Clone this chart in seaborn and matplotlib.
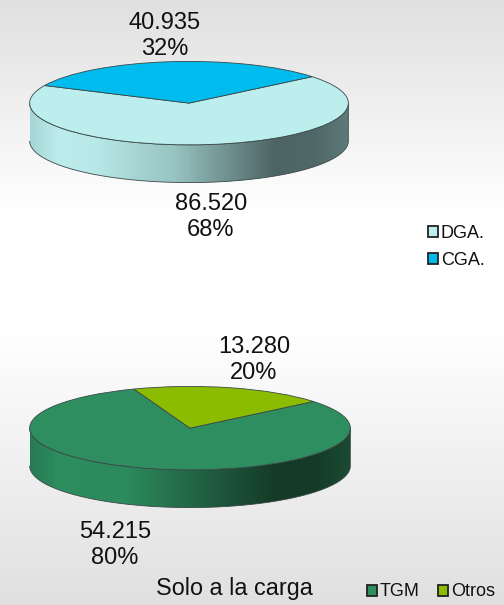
import numpy as np
import matplotlib
matplotlib.use("Agg")
import matplotlib.pyplot as plt
import seaborn as sns
from matplotlib.colors import LinearSegmentedColormap
from matplotlib.patches import Patch, PathPatch
from matplotlib.path import Path

top_labels = ["DGA.", "CGA."]
top_values = [86520, 40935]
top_pcts = [68, 32]
bottom_labels = ["TGM", "Otros"]
bottom_values = [54215, 13280]
bottom_pcts = [80, 20]
title = "Solo a la carga"

W, H = 504, 605
DEPTH = 38 / 42

sns.set_theme(style="white")
plt.rcParams["font.family"] = ["Liberation Sans", "DejaVu Sans"]

fig = plt.figure(figsize=(W / 100, H / 100), dpi=100)

# page background, grey at both ends and white in the middle
bg = fig.add_axes([0, 0, 1, 1], zorder=0)
bg_cmap = LinearSegmentedColormap.from_list(
    "bg", [(0, "#e0e0e0"), (0.35, "#ffffff"), (0.55, "#ffffff"), (1, "#e0e0e0")])
bg.imshow(np.linspace(0, 1, 256)[:, None], cmap=bg_cmap, aspect="auto", extent=(0, 1, 0, 1))
bg.axis("off")


def draw_pie(box, values, colors, start, side_stops):
    # box is left, top, right, bottom of the disc in pixels
    l, t, r, b = box
    ax = fig.add_axes([l / W, 1 - b / H, (r - l) / W, (b - t) / H], zorder=1)
    ax.pie(values, colors=colors, startangle=start, counterclock=True, radius=1,
           wedgeprops=dict(edgecolor="#3a4848", linewidth=0.6, zorder=3))
    ax.set_aspect("auto")

    th = np.linspace(np.pi, 2 * np.pi, 200)
    xs = np.r_[np.cos(th), np.cos(th[::-1])]
    ys = np.r_[np.sin(th), np.sin(th[::-1]) - DEPTH]
    side = PathPatch(Path(np.c_[xs, ys]), facecolor="none", edgecolor="#3a4848",
                     linewidth=0.6, zorder=2)
    ax.add_patch(side)
    cmap = LinearSegmentedColormap.from_list("side", side_stops)
    im = ax.imshow(np.linspace(0, 1, 320)[None, :], cmap=cmap, aspect="auto",
                   extent=(-1, 1, -1 - DEPTH, 0), zorder=1)
    im.set_clip_path(side)
    ax.set_xlim(-1.004, 1.004)
    ax.set_ylim(-1 - DEPTH - 0.01, 1.01)
    ax.axis("off")
    return ax


draw_pie((29, 61, 349, 183), top_values, ["#bcEEEE", "#00bcee"], 155,
         [(0, "#a6d6d6"), (0.09, "#bcecec"), (0.2, "#b8e8e8"), (0.45, "#98c4c2"),
          (0.77, "#4d6464"), (0.9, "#506868"), (1, "#5e7a7a")])
draw_pie((29, 386, 351, 508), bottom_values, ["#2e8e60", "#8cbc00"], 110.5,
         [(0, "#277a52"), (0.09, "#2e8e60"), (0.3, "#2c8a5c"), (0.55, "#205e40"),
          (0.77, "#153a27"), (0.9, "#163c29"), (1, "#1b4a33")])


def value_label(x, y, value, pct):
    txt = f"{value:,}".replace(",", ".") + f"\n{pct}%"
    fig.text(x / W, 1 - y / H, txt, ha="center", va="center", fontsize=17,
             color="#111111", linespacing=1.27, zorder=5)


value_label(165, 36, top_values[1], top_pcts[1])
value_label(211, 217, top_values[0], top_pcts[0])
value_label(254, 360, bottom_values[1], bottom_pcts[1])
value_label(115, 545, bottom_values[0], bottom_pcts[0])

fig.text(234 / W, 1 - 588 / H, title, ha="center", va="center", fontsize=16.8,
         color="#111111", zorder=5)


def patches(labels, colors):
    return [Patch(facecolor=c, edgecolor="#222222", linewidth=1.3, label=n)
            for n, c in zip(labels, colors)]


fig.legend(handles=patches(top_labels, ["#bcEEEE", "#00bcee"]), loc="center left",
           bbox_to_anchor=(428 / W, 1 - 247 / H), frameon=False, fontsize=13,
           handlelength=0.55, handleheight=0.55, handletextpad=0.15, labelspacing=0.55,
           borderpad=0, borderaxespad=0, labelcolor="#111111")
fig.legend(handles=patches(bottom_labels, ["#2e8e60", "#8cbc00"]), loc="center left",
           bbox_to_anchor=(367 / W, 1 - 592 / H), frameon=False, fontsize=13, ncol=2,
           handlelength=0.55, handleheight=0.55, handletextpad=0.15, columnspacing=1.05,
           borderpad=0, borderaxespad=0, labelcolor="#111111")

fig.savefig("out.png", dpi=100)
